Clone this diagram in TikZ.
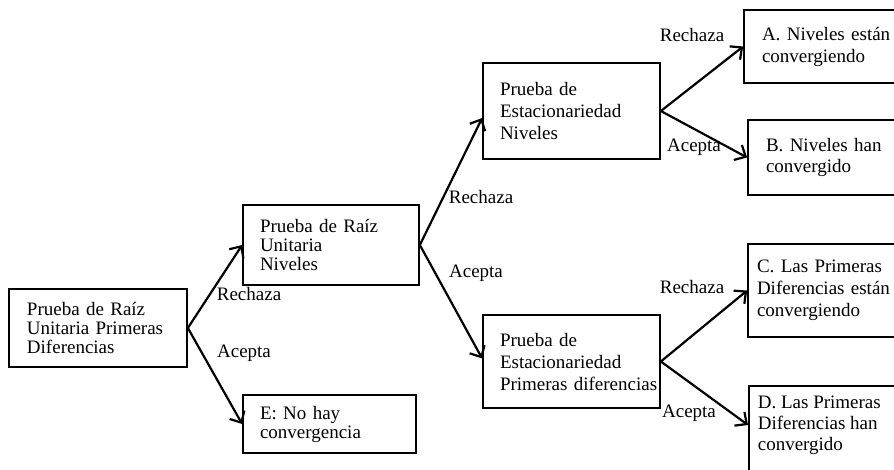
\documentclass[tikz,border=0pt]{standalone}
\usepackage{fontspec}
\setmainfont{Liberation Serif}
\usetikzlibrary{arrows.meta,calc}
\begin{document}
\begin{tikzpicture}[x=1pt,y=-1pt,
  font=\fontsize{19}{21}\selectfont,
  box/.style={draw, line width=1.7pt, rectangle, inner ysep=0pt, align=left},
  tight/.style={font=\fontsize{19}{19}\selectfont},
  loose/.style={font=\fontsize{19}{22}\selectfont},
  lbl/.style={inner sep=0pt, font=\fontsize{19}{21}\selectfont},
  conn/.style={line width=2.2pt, -{Straight Barb[length=9pt,width=17pt,line width=2.2pt]}}]
\useasboundingbox (0,0) rectangle (894,469);
\clip (0,0) rectangle (894,469);

% left column
\node[box, tight, minimum width=178pt, minimum height=78pt, inner xsep=18pt, text width=142pt] (b1) at (98,328)
  {Prueba de Raíz\\Unitaria Primeras\\Diferencias};
\node[box, tight, minimum width=176pt, minimum height=80pt, inner xsep=17pt, text width=142pt] (b2) at (331,245)
  {Prueba de Raíz\\Unitaria\\Niveles};
\node[box, tight, minimum width=173pt, minimum height=58pt, inner xsep=17pt, text width=139pt] (bE) at (329.5,424)
  {E: No hay\\convergencia};

% middle column
\node[box, loose, minimum width=177pt, minimum height=96pt, inner xsep=17pt, text width=143pt] (b3) at (571.5,111)
  {Prueba de\\Estacionariedad\\Niveles};
\node[box, loose, minimum width=177pt, minimum height=93pt, inner xsep=17pt, text width=143pt] (b4) at (571.5,361.5)
  {Prueba de\\Estacionariedad\\\mbox{Primeras diferencias}};

% right column (cut by the picture edge)
\node[box, loose, minimum width=176pt, minimum height=73pt, inner xsep=18pt, text width=140pt] (bA) at (832,46.5)
  {A. Niveles están\\convergiendo};
\node[box, minimum width=172pt, minimum height=75pt, inner xsep=18pt, text width=136pt] (bB) at (834,157.5)
  {B. Niveles han\\convergido};
\node[box, loose, minimum width=172pt, minimum height=93pt, inner xsep=9pt, text width=154pt] (bC) at (834,290.5)
  {C. Las Primeras\\Diferencias están\\convergiendo};
\node[box, anchor=north west, inner xsep=9pt, inner ysep=10pt] (bD) at (748,385)
  {\parbox[c][85pt][t]{154pt}{\raggedright D. Las Primeras\\Diferencias han\\convergido}};

% connectors
\draw[conn] (b1.east) -- (b2.west);
\draw[conn] (b1.east) -- (bE.west);
\draw[conn] (b2.east) -- ($(b3.west)+(0,7)$);
\draw[conn] (b2.east) -- ($(b4.west)+(0,-3)$);
\draw[conn] (b3.east) -- (bA.west);
\draw[conn] (b3.east) -- (bB.west);
\draw[conn] (b4.east) -- (bC.west);
\draw[conn] (b4.east) -- ($(bD.north west)+(0,40)$);

% labels
\node[lbl] (l1) at (249,294) {Rechaza};
\node[lbl] (l2) at (244,353) {Acepta};
\node[lbl] (l3) at (481,197) {Rechaza};
\node[lbl] (l4) at (476,273) {Acepta};
\node[lbl] (l5) at (692,35) {Rechaza};
\node[lbl] (l6) at (694,147) {Acepta};
\node[lbl] (l7) at (692,287) {Rechaza};
\node[lbl] (l8) at (689,413) {Acepta};
\end{tikzpicture}
\end{document}
